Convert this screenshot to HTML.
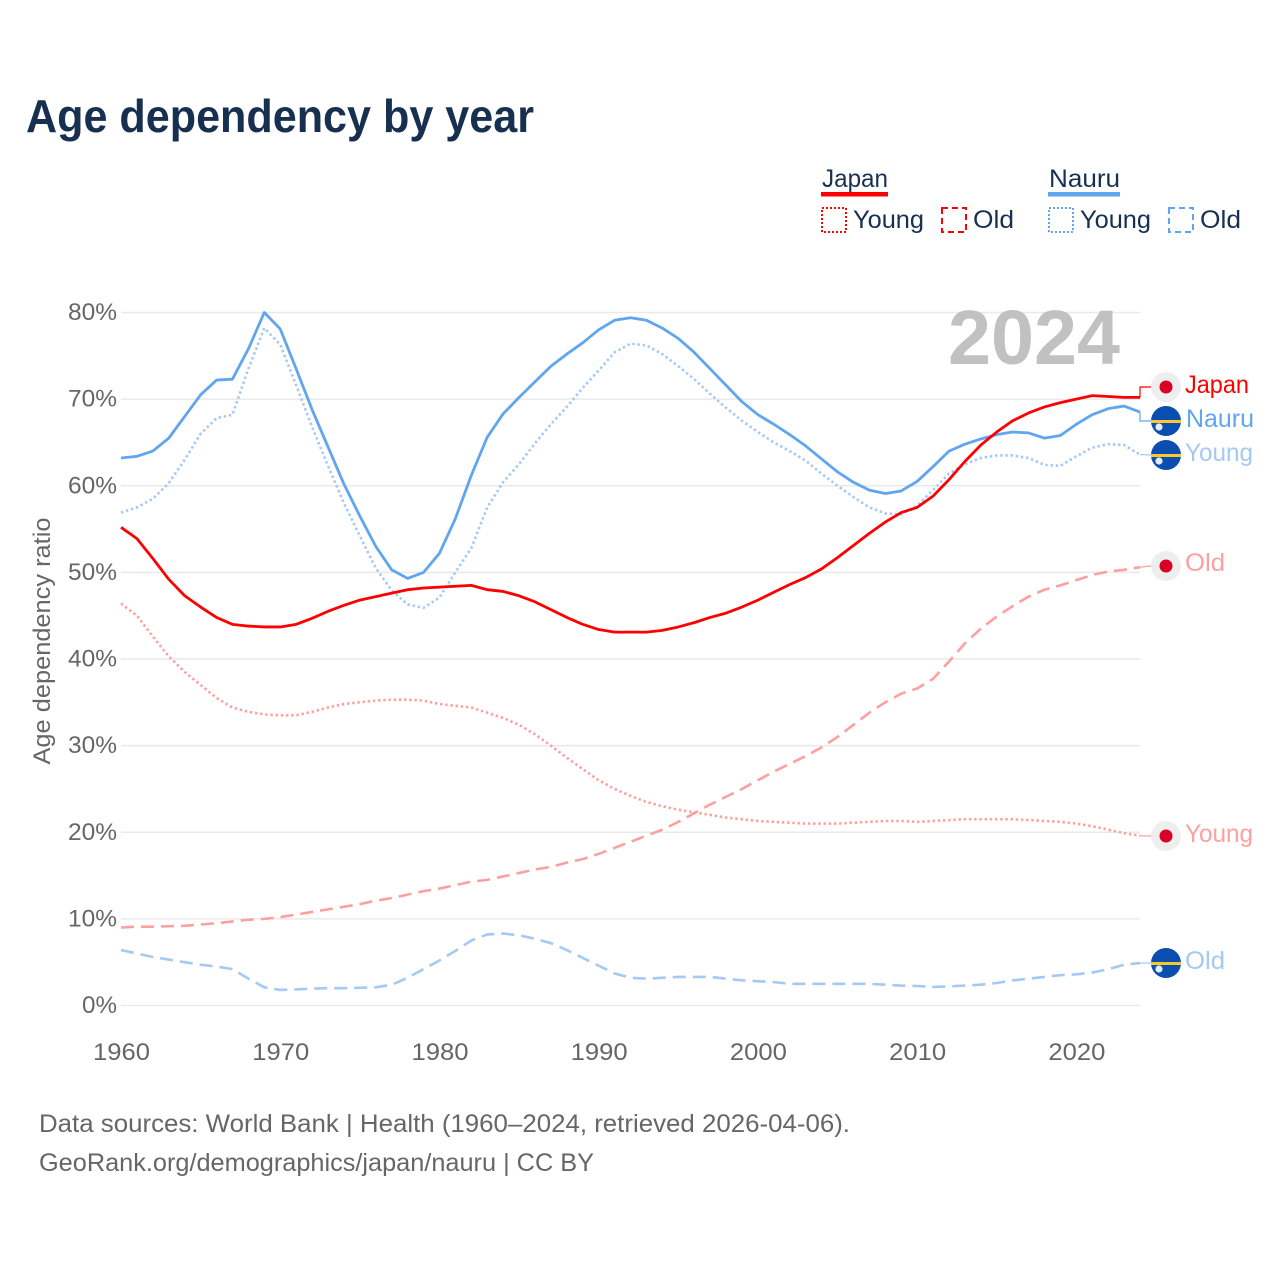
<!DOCTYPE html>
<html lang="en">
<head>
<meta charset="utf-8">
<title>Age dependency by year</title>
<style>
html,body{margin:0;padding:0;background:#fff;width:1280px;height:1280px;overflow:hidden}
svg{display:block}
text{font-family:"Liberation Sans",sans-serif}
</style>
</head>
<body>
<svg id="chart" xmlns="http://www.w3.org/2000/svg" width="1280" height="1280" viewBox="0 0 1280 1280">
  <rect width="1280" height="1280" fill="#fff"/>
  <text x="26" y="132" font-size="46" font-weight="700" fill="#17304f" textLength="508" lengthAdjust="spacingAndGlyphs">Age dependency by year</text>

  <g font-size="25" fill="#17304f">
    <text x="822" y="187" textLength="66" lengthAdjust="spacingAndGlyphs">Japan</text>
    <rect x="821" y="192" width="67" height="4.5" fill="#ff0000"/>
    <rect x="822" y="208" width="24" height="24" fill="none" stroke="#ff0000" stroke-width="2" stroke-dasharray="2 2"/>
    <text x="853" y="228" textLength="71" lengthAdjust="spacingAndGlyphs">Young</text>
    <rect x="942" y="208" width="24" height="24" fill="none" stroke="#ff0000" stroke-width="2" stroke-dasharray="6 4"/>
    <text x="973" y="228" textLength="41" lengthAdjust="spacingAndGlyphs">Old</text>
    <text x="1049" y="187" textLength="71" lengthAdjust="spacingAndGlyphs">Nauru</text>
    <rect x="1048" y="192" width="72" height="4.5" fill="#60a5ef"/>
    <rect x="1049" y="208" width="24" height="24" fill="none" stroke="#60a5ef" stroke-width="2" stroke-dasharray="2 2"/>
    <text x="1080" y="228" textLength="71" lengthAdjust="spacingAndGlyphs">Young</text>
    <rect x="1169" y="208" width="24" height="24" fill="none" stroke="#60a5ef" stroke-width="2" stroke-dasharray="6 4"/>
    <text x="1200" y="228" textLength="41" lengthAdjust="spacingAndGlyphs">Old</text>
  </g>

  <g id="grid"></g>
  <text x="1120" y="364" text-anchor="end" font-size="77" font-weight="700" fill="#c1c1c1" textLength="172" lengthAdjust="spacingAndGlyphs">2024</text>
  <g id="yticks"></g>
  <g id="xticks"></g>
  <text transform="translate(50,641) rotate(-90)" text-anchor="middle" font-size="24" fill="#666" textLength="247" lengthAdjust="spacingAndGlyphs">Age dependency ratio</text>
  <g id="series"></g>

  <g font-size="25">
    <g><circle cx="1166" cy="387" r="15" fill="#eeeeee"/><circle cx="1166" cy="387" r="6.5" fill="#d80027"/></g>
    <text x="1185" y="393" fill="#ff0000" textLength="64" lengthAdjust="spacingAndGlyphs">Japan</text>
    <g><circle cx="1166" cy="421" r="15" fill="#0a4fb0"/><rect x="1151" y="420" width="30" height="3" fill="#ffc72c"/><circle cx="1159" cy="427" r="3.6" fill="#e4ecf8"/></g>
    <text x="1186" y="427" fill="#60a5ef" textLength="68" lengthAdjust="spacingAndGlyphs">Nauru</text>
    <g><circle cx="1166" cy="455" r="15" fill="#0a4fb0"/><rect x="1151" y="454" width="30" height="3" fill="#ffc72c"/><circle cx="1159" cy="461" r="3.6" fill="#e4ecf8"/></g>
    <text x="1185" y="461" fill="#a3c9f4" textLength="68" lengthAdjust="spacingAndGlyphs">Young</text>
    <g><circle cx="1166" cy="566" r="15" fill="#eeeeee"/><circle cx="1166" cy="566" r="6.5" fill="#d80027"/></g>
    <text x="1185" y="571" fill="#ff9f9f" textLength="40" lengthAdjust="spacingAndGlyphs">Old</text>
    <g><circle cx="1166" cy="836" r="15" fill="#eeeeee"/><circle cx="1166" cy="836" r="6.5" fill="#d80027"/></g>
    <text x="1185" y="842" fill="#ff9f9f" textLength="68" lengthAdjust="spacingAndGlyphs">Young</text>
    <g><circle cx="1166" cy="963" r="15" fill="#0a4fb0"/><rect x="1151" y="962" width="30" height="3" fill="#ffc72c"/><circle cx="1159" cy="969" r="3.6" fill="#e4ecf8"/></g>
    <text x="1185" y="969" fill="#a3c9f4" textLength="40" lengthAdjust="spacingAndGlyphs">Old</text>
  </g>

  <text x="39" y="1132" font-size="25" fill="#666" textLength="811" lengthAdjust="spacingAndGlyphs">Data sources: World Bank | Health (1960–2024, retrieved 2026-04-06).</text>
  <text x="39" y="1171" font-size="25" fill="#666" textLength="555" lengthAdjust="spacingAndGlyphs">GeoRank.org/demographics/japan/nauru | CC BY</text>
</svg>
<script>
const years = [1960,1961,1962,1963,1964,1965,1966,1967,1968,1969,1970,1971,1972,1973,1974,1975,1976,1977,1978,1979,1980,1981,1982,1983,1984,1985,1986,1987,1988,1989,1990,1991,1992,1993,1994,1995,1996,1997,1998,1999,2000,2001,2002,2003,2004,2005,2006,2007,2008,2009,2010,2011,2012,2013,2014,2015,2016,2017,2018,2019,2020,2021,2022,2023,2024];
const japanTotal = [55.2,53.9,51.6,49.2,47.3,46.0,44.8,44.0,43.8,43.7,43.7,44.0,44.7,45.5,46.2,46.8,47.2,47.6,48.0,48.2,48.3,48.4,48.5,48.0,47.8,47.3,46.6,45.7,44.8,44.0,43.4,43.1,43.1,43.1,43.3,43.7,44.2,44.8,45.3,46.0,46.8,47.7,48.6,49.4,50.4,51.7,53.1,54.5,55.8,56.9,57.5,58.8,60.7,62.8,64.7,66.2,67.5,68.4,69.1,69.6,70.0,70.4,70.3,70.2,70.2];
const japanYoung = [46.4,45.0,42.6,40.3,38.5,37.0,35.5,34.4,33.9,33.6,33.5,33.5,33.9,34.4,34.8,35.0,35.2,35.3,35.3,35.2,34.8,34.6,34.4,33.8,33.2,32.4,31.3,30.0,28.6,27.3,26.0,25.0,24.2,23.5,23.0,22.6,22.3,22.0,21.7,21.5,21.3,21.2,21.1,21.0,21.0,21.0,21.1,21.2,21.3,21.3,21.2,21.3,21.4,21.5,21.5,21.5,21.5,21.4,21.3,21.2,21.0,20.7,20.3,19.9,19.6];
const japanOld = [9.0,9.1,9.1,9.15,9.2,9.35,9.5,9.7,9.9,10.0,10.2,10.5,10.8,11.1,11.4,11.7,12.1,12.4,12.8,13.2,13.5,13.9,14.3,14.5,14.9,15.3,15.7,16.0,16.5,16.9,17.5,18.2,18.9,19.6,20.3,21.2,22.2,23.2,24.1,25.0,26.0,27.0,27.9,28.8,29.8,31.0,32.4,33.8,35.0,36.0,36.6,37.7,39.7,41.8,43.5,44.9,46.1,47.2,48.0,48.5,49.1,49.7,50.1,50.3,50.6];
const nauruTotal = [63.2,63.4,64.0,65.5,68.0,70.5,72.2,72.3,75.8,80.0,78.1,73.5,68.8,64.5,60.2,56.5,53.0,50.3,49.3,50.0,52.2,56.2,61.2,65.6,68.3,70.2,72.0,73.8,75.2,76.5,78.0,79.1,79.4,79.1,78.2,77.0,75.4,73.5,71.6,69.7,68.2,67.1,65.9,64.6,63.1,61.6,60.4,59.5,59.1,59.4,60.5,62.2,64.0,64.8,65.4,65.9,66.2,66.1,65.5,65.8,67.1,68.2,68.9,69.2,68.5];
const nauruYoung = [56.9,57.5,58.5,60.3,63.0,66.0,67.8,68.2,73.5,78.2,76.3,71.6,66.8,62.3,58.0,54.2,50.5,47.9,46.3,45.9,47.1,50.0,52.8,57.5,60.4,62.5,64.9,67.1,69.1,71.3,73.3,75.4,76.4,76.2,75.2,73.8,72.3,70.6,69.0,67.5,66.2,65.0,64.0,62.9,61.4,60.0,58.7,57.5,56.8,56.7,57.7,59.5,61.4,62.5,63.2,63.5,63.5,63.2,62.4,62.3,63.4,64.4,64.8,64.7,63.6];
const nauruOld = [6.4,6.0,5.6,5.3,5.0,4.7,4.5,4.2,3.1,2.1,1.8,1.85,1.95,2.0,2.0,2.05,2.1,2.4,3.2,4.2,5.2,6.3,7.5,8.2,8.3,8.1,7.7,7.2,6.4,5.5,4.6,3.7,3.2,3.1,3.2,3.3,3.3,3.3,3.1,2.9,2.8,2.7,2.5,2.5,2.5,2.5,2.5,2.5,2.4,2.3,2.25,2.15,2.2,2.3,2.4,2.6,2.9,3.1,3.3,3.5,3.6,3.8,4.2,4.7,4.9];
const yTickValues = [0,10,20,30,40,50,60,70,80];
const xTickValues = [1960,1970,1980,1990,2000,2010,2020];

const NS = 'http://www.w3.org/2000/svg';
const xScale = function (year) { return 121 + (year - 1960) * (1140 - 121) / 64; };
const yScale = function (value) { return 1005.5 - value * (1005.5 - 312.5) / 80; };

function make(tag, parent, attrs) {
  const el = document.createElementNS(NS, tag);
  Object.keys(attrs).forEach(function (k) { el.setAttribute(k, attrs[k]); });
  parent.appendChild(el);
  return el;
}

const gridGroup = document.getElementById('grid');
const yGroup = document.getElementById('yticks');
yTickValues.forEach(function (v) {
  const line = make('line', gridGroup, { x1: 121, x2: 1140, y1: yScale(v), y2: yScale(v), stroke: '#e9e9e9', 'stroke-width': 1.5 });
  
  
  const label = make('text', yGroup, { x: 117, y: yScale(v) + 7.5, 'text-anchor': 'end', 'font-size': 24, fill: '#666', textLength: v === 0 ? 35 : 49, lengthAdjust: 'spacingAndGlyphs' });
  
  
  label.textContent = v + '%';
});

const xGroup = document.getElementById('xticks');
xTickValues.forEach(function (v) {
  const label = make('text', xGroup, { x: xScale(v) + 0.5, y: 1060, 'text-anchor': 'middle', 'font-size': 24, fill: '#666', textLength: 57, lengthAdjust: 'spacingAndGlyphs' });
  
  
  label.textContent = v;
});

const seriesGroup = document.getElementById('series');
function drawSeries(values, name, color, width, dash, labelX, labelY, elbow) {
  const pts = values.map(function (v, i) { return xScale(years[i]).toFixed(2) + ',' + yScale(v).toFixed(2); });
  const attrs = { points: pts.join(' '), fill: 'none', stroke: color, 'stroke-width': width, 'stroke-linejoin': 'round' };
  if (dash) attrs['stroke-dasharray'] = dash;
  const line = make('polyline', seriesGroup, attrs);
  
  

  const lastY = yScale(values[values.length - 1]);
  const d = elbow
    ? 'M1140 ' + lastY + ' V' + labelY + ' H' + labelX
    : 'M1140 ' + lastY + ' L' + labelX + ' ' + labelY;
  const leaderAttrs = { d: d, fill: 'none', stroke: color, 'stroke-width': 1.2 };
  const leader = make('path', seriesGroup, leaderAttrs);
  
  
}

drawSeries(nauruOld, 'nauru-old-line', '#a3c9f4', 2.6, '13 7', 1151, 963, false);
drawSeries(japanOld, 'japan-old-line', '#ff9f9f', 2.6, '13 7', 1151, 566, false);
drawSeries(japanYoung, 'japan-young-line', '#ff9f9f', 2.6, '2.4 2.8', 1151, 836, false);
drawSeries(nauruYoung, 'nauru-young-line', '#a3c9f4', 2.6, '2.4 2.8', 1151, 455, false);
drawSeries(nauruTotal, 'nauru-total-line', '#60a5ef', 2.8, null, 1151, 421, true);
drawSeries(japanTotal, 'japan-total-line', '#ff0000', 2.8, null, 1151, 387, true);
</script>
</body>
</html>
